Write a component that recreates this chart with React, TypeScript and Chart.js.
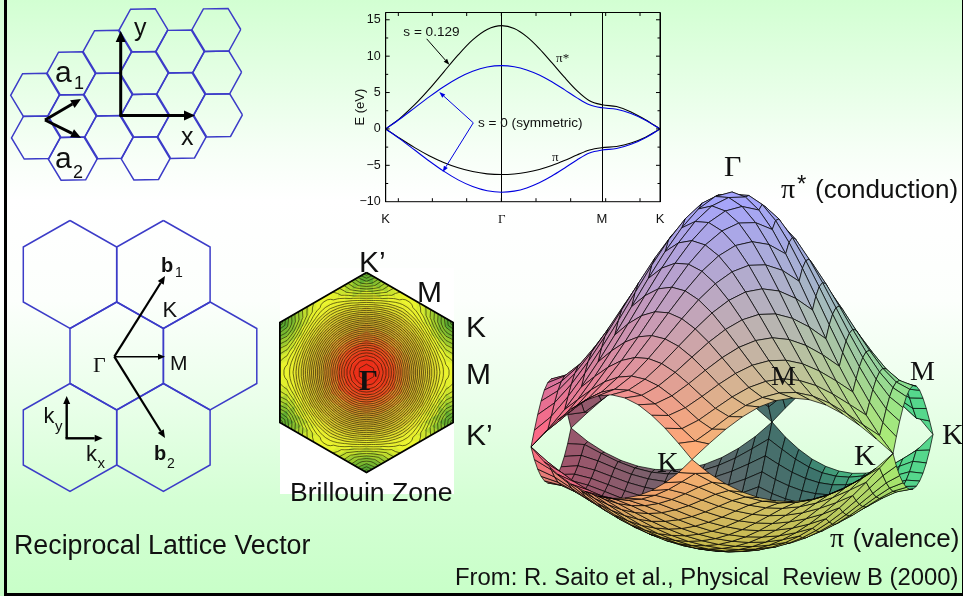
import React, { useEffect, useRef } from "react";
import { Chart, registerables } from "chart.js";

Chart.register(...registerables);

/*
 * Where the numbers come from: the curve arrays and the surface tables below were not all measured
 * point by point from the picture. I worked them out by hand from the tight-binding dispersion
 * E = t*w / (1 -/+ s*w), with t = 2.9 eV and s = 0.129. Those two constants were fitted to the
 * reference (Gamma at 14.2 / -6.3 / +-8.7 eV, M at 3.3 / -2.6 / +-2.9 eV), and I checked the result
 * against it. The values are typed in as literals; nothing is computed at run time.
 * Contour lines in the Brillouin zone are linear interpolations of the piStarRows table.
 * The mesh of 12 cells per rhombus was counted from the kinks on the reference's surface.
 */

/* ---------- band-structure inset ---------- */
const kPath = [0, 0.25, 0.5, 0.75, 1, 1.25, 1.5, 1.75, 2, 2.2165, 2.433, 2.6495, 2.866, 3.0825, 3.299, 3.5155, 3.732, 3.982, 4.232, 4.482, 4.732];
const piStarOverlap = [0, 1.49, 3.33, 5.47, 7.82, 10.17, 12.23, 13.67, 14.19, 13.8, 12.69, 11.05, 9.11, 7.11, 5.27, 3.88, 3.33, 3.07, 2.34, 1.27, 0];
const piOverlap = [0, -1.32, -2.57, -3.68, -4.61, -5.34, -5.86, -6.17, -6.27, -6.19, -5.96, -5.57, -5.03, -4.35, -3.59, -2.89, -2.57, -2.41, -1.94, -1.14, 0];
const piStarSymmetric = [0, 1.4, 2.9, 4.4, 5.8, 7.0, 7.92, 8.5, 8.7, 8.55, 8.11, 7.41, 6.48, 5.4, 4.27, 3.31, 2.9, 2.7, 2.12, 1.2, 0];
const piSymmetric = [0, -1.4, -2.9, -4.4, -5.8, -7.0, -7.92, -8.5, -8.7, -8.55, -8.11, -7.41, -6.48, -5.4, -4.27, -3.31, -2.9, -2.7, -2.12, -1.2, 0];
const symmetryTicks = [0, 2, 3.732, 4.732];
const symmetryLabels = ["K", "Γ", "M", "K"];
const kMinorTicks = [0.218, 0.805, 1.397, 1.995, 2.593, 3.191, 3.795, 4.387];
const energyMinorTicks = [-7.5, -5, -2.5, 0, 2.5, 5, 7.5, 10, 12.5, 15];

/* ---------- energy surface: triangular tables over one rhombus of the zone (eV) ---------- */
const piStarRows = [[14.19], [13.96], [13.28, 13.51], [12.23, 12.65], [10.9, 11.46, 11.65], [9.4, 10.05, 10.39], [7.82, 8.51, 8.96, 9.11], [6.24, 6.94, 7.46, 7.74], [4.73, 5.42, 5.98, 6.34, 6.47], [3.33, 3.99, 4.58, 5.02, 5.25], [2.07, 2.71, 3.33, 3.84, 4.16, 4.28], [0.96, 1.61, 2.3, 2.9, 3.33, 3.56], [0, 0.86, 1.66, 2.34, 2.88, 3.21, 3.33]];
const piRows = [[-6.27], [-6.23], [-6.09, -6.13], [-5.86, -5.95], [-5.54, -5.67, -5.72], [-5.12, -5.3, -5.4], [-4.61, -4.84, -4.99, -5.03], [-4.01, -4.29, -4.49, -4.58], [-3.33, -3.66, -3.9, -4.05, -4.11], [-2.57, -2.95, -3.25, -3.47, -3.58], [-1.75, -2.18, -2.57, -2.86, -3.04, -3.1], [-0.88, -1.41, -1.91, -2.3, -2.57, -2.7], [0, -0.8, -1.44, -1.94, -2.29, -2.5, -2.57]];
const contourLevels = [0.31, 0.66, 1.01, 1.36, 1.71, 2.06, 2.41, 2.76, 3.11, 3.46, 3.81, 4.16, 4.51, 4.86, 5.21, 5.56, 5.91, 6.26, 6.61, 6.96, 7.31, 7.66, 8.01, 8.36, 8.71, 9.06, 9.41, 9.76, 10.11, 10.46, 10.81, 11.16, 11.51, 11.86, 12.21, 12.56, 12.91, 13.26, 13.61, 13.96];

/* ---------- lattices: cells in lattice indices ---------- */
const realLatticeCells = [[0, 0], [0, 1], [0, 2], [0, 3], [1, 0], [1, 1], [1, 2], [2, -1], [2, 0], [2, 1], [-1, 1], [-1, 2], [-1, 3], [-2, 2], [-2, 3], [-2, 4], [-3, 3], [-3, 4]];
const reciprocalCells = [[0, 0], [1, 1], [1, 0], [0, -1], [0, 1], [-1, 0]];

const SANS = "'Liberation Sans', Arial, sans-serif";
const SERIF = "'Liberation Serif', 'Times New Roman', serif";
const INK = "#111";
const LATTICE_BLUE = "#3c3cc8";

type Lbl = [string, number, number, number, string, string?];
const sceneLabels: Lbl[] = [
  ["y", 134, 36, 25, SANS], ["x", 181, 145, 25, SANS],
  ["a", 55, 81.5, 30, SANS], ["1", 74, 88.5, 18, SANS],
  ["a", 55, 168, 30, SANS], ["2", 73, 178, 18, SANS],
  ["b", 161, 271.5, 20, SANS, "bold"], ["1", 175, 277, 14, SANS],
  ["K", 162.5, 316.5, 22, SANS], ["Γ", 93, 371.5, 22, SERIF], ["M", 170, 370, 21, SANS],
  ["k", 43.5, 422.5, 22, SANS], ["y", 55, 431, 15, SANS],
  ["k", 86, 461, 22, SANS], ["x", 97.5, 468, 15, SANS],
  ["b", 154, 460, 20, SANS, "bold"], ["2", 167, 468, 14, SANS],
  ["Reciprocal Lattice Vector", 14, 554, 26.8, SANS],
  ["K’", 359, 271.5, 30, SANS], ["M", 417, 301.5, 30, SANS], ["K", 466, 336.5, 30, SANS],
  ["M", 466, 384, 30, SANS], ["K’", 466, 445, 30, SANS], ["Γ", 359, 390, 30, SERIF, "bold"],
  ["Brillouin Zone", 290, 500.5, 26.6, SANS],
  ["Γ", 724, 176, 30, SERIF], ["π", 781, 198, 28, SERIF], ["*", 797, 192, 24, SANS],
  ["(conduction)", 815, 198, 26, SANS],
  ["M", 771, 385, 28, SERIF], ["M", 910, 380, 28, SERIF], ["K", 942, 444, 30, SERIF],
  ["K", 657, 471.5, 30, SERIF], ["K", 854, 465, 30, SERIF],
  ["π", 830, 546.5, 28, SERIF], ["(valence)", 852.5, 546.5, 26, SANS],
  ["From: R. Saito et al., Physical  Review B (2000)", 455, 585, 23.85, SANS],
];
const bandLabels: Lbl[] = [
  ["s = 0.129", 0.304, 12.73, 13.6, SANS], ["s = 0 (symmetric)", 1.592, 0.24, 13.6, SANS],
  ["π*", 2.94, 9.23, 13, SERIF], ["π", 2.87, -4.35, 13, SERIF],
];
type Arr = [number, number, number, number, number, number, number, string];
const sceneArrows: Arr[] = [
  [120.7, 116, 120.7, 31, 3, 11, 10, "#000"], [119.5, 115.5, 195, 115.5, 3, 11, 10, "#000"],
  [45, 120, 81, 99, 3, 10, 9, "#000"], [45, 120, 81, 137.7, 3, 10, 9, "#000"],
  [114.3, 356.7, 165, 276, 2.2, 8, 7, "#000"], [114.3, 356.7, 165, 438, 2.2, 8, 7, "#000"],
  [114.3, 356.7, 165, 356.7, 1.6, 7, 6, "#000"],
  [66.7, 438.3, 66.7, 396, 2.4, 8, 7, "#000"], [65.5, 438.3, 102.7, 438.3, 2.4, 8, 7, "#000"],
];
const bandArrows: Arr[] = [
  [0.707, 12.38, 1.098, 8.83, 1, 6, 4.5, "#000"],
  [1.511, 0.84, 0.925, 5.06, 1, 6, 4.5, "#0000e0"],
  [1.511, 0.84, 0.983, -5.91, 1, 6, 4.5, "#0000e0"],
];

function energy(rows: number[][], i: number, j: number) {
  const a = Math.max(i, j);
  const b = Math.min(i, j);
  return rows[a][Math.min(b, a - b)];
}

function drawArrow(ctx: CanvasRenderingContext2D, x0: number, y0: number, x1: number, y1: number, w: number, hl: number, hw: number, color: string) {
  const len = Math.hypot(x1 - x0, y1 - y0);
  const ux = (x1 - x0) / len, uy = (y1 - y0) / len;
  const bx = x1 - ux * hl, by = y1 - uy * hl;
  ctx.save();
  ctx.strokeStyle = color; ctx.fillStyle = color; ctx.lineWidth = w;
  ctx.beginPath(); ctx.moveTo(x0, y0); ctx.lineTo(bx, by); ctx.stroke();
  ctx.beginPath(); ctx.moveTo(x1, y1);
  ctx.lineTo(bx - uy * hw / 2, by + ux * hw / 2);
  ctx.lineTo(bx + uy * hw / 2, by - ux * hw / 2);
  ctx.closePath(); ctx.fill();
  ctx.restore();
}

function annotationPlugin(labels: Lbl[], arrows: Arr[]) {
  return {
    id: "annotations",
    afterDatasetsDraw(chart: any) {
      const { ctx, scales: { x, y } } = chart;
      arrows.forEach(([a, b, c, d, w, hl, hw, col]) =>
        drawArrow(ctx, x.getPixelForValue(a), y.getPixelForValue(b), x.getPixelForValue(c), y.getPixelForValue(d), w, hl, hw, col));
      ctx.save();
      ctx.fillStyle = INK; ctx.textBaseline = "alphabetic"; ctx.textAlign = "left";
      labels.forEach(([t, a, b, size, fam, weight]) => {
        ctx.font = `${weight || "normal"} ${size}px ${fam}`;
        ctx.fillText(t, x.getPixelForValue(a), y.getPixelForValue(b));
      });
      ctx.restore();
    },
  };
}

const framePlugin = {
  id: "frame",
  afterDatasetsDraw(chart: any) {
    const { ctx, chartArea: a, scales: { x, y } } = chart;
    ctx.save();
    ctx.strokeStyle = "#000"; ctx.lineWidth = 1;
    ctx.strokeRect(a.left, a.top, a.right - a.left, a.bottom - a.top);
    ctx.beginPath();
    kMinorTicks.forEach((k) => {
      const p = x.getPixelForValue(k);
      ctx.moveTo(p, a.bottom); ctx.lineTo(p, a.bottom - 3.5);
      ctx.moveTo(p, a.top); ctx.lineTo(p, a.top + 3.5);
    });
    energyMinorTicks.forEach((e) => {
      const p = y.getPixelForValue(e);
      const len = e % 5 === 0 ? 4 : 2.5;
      ctx.moveTo(a.left, p); ctx.lineTo(a.left + len, p);
      ctx.moveTo(a.right, p); ctx.lineTo(a.right - len, p);
    });
    ctx.stroke();
    ctx.restore();
  },
};

function mix(a: number[], b: number[], f: number) {
  return a.map((v, i) => v + (b[i] - v) * f);
}
const css = (c: number[]) => `rgb(${Math.round(c[0])},${Math.round(c[1])},${Math.round(c[2])})`;
const ramp = (v: number, lo: number, hi: number) => Math.max(0, Math.min(1, (v - lo) / (hi - lo)));

function zoneColor(e: number) {
  const stops: [number, number[]][] = [
    [0, [55, 150, 50]], [2.2, [165, 208, 45]], [3.4, [235, 245, 45]], [4.4, [228, 228, 45]], [6, [215, 195, 45]], [8.5, [210, 170, 45]],
    [10.5, [222, 130, 40]], [12.2, [232, 72, 30]], [14.2, [236, 38, 22]],
  ];
  for (let i = 1; i < stops.length; i++) {
    if (e <= stops[i][0]) return mix(stops[i - 1][1], stops[i][1], (e - stops[i - 1][0]) / (stops[i][0] - stops[i - 1][0]));
  }
  return stops[stops.length - 1][1];
}

// the non-empty dash keeps Chart.js off its column-merging fast path, which is only safe for x-sorted lines
function lineDs(data: any[], extra: any) {
  return { data, pointRadius: 0, tension: 0, clip: false, fill: false, borderColor: "#000", borderWidth: 1, borderDash: [4000, 0], ...extra };
}

function buildSceneDatasets() {
  const bottomUp: any[] = [];
  const N = 12;

  // Brillouin zone
  const zc = [366.5, 372.5], zr = 100;
  const corner = (deg: number) => [zr * Math.cos((deg * Math.PI) / 180), zr * Math.sin((deg * Math.PI) / 180)];
  const zonePatches = [[-90, 30], [30, 150], [150, 270]].map(([p, q]) => [corner(p), corner(q)]);
  const zp = (pt: number[][], i: number, j: number) => ({
    x: zc[0] + (i / N) * pt[0][0] + (j / N) * pt[1][0],
    y: zc[1] + (i / N) * pt[0][1] + (j / N) * pt[1][1],
  });
  zonePatches.forEach((pt) => {
    for (let i = 0; i < N; i++) for (let j = 0; j < N; j++) {
      const e = (energy(piStarRows, i, j) + energy(piStarRows, i + 1, j) + energy(piStarRows, i, j + 1) + energy(piStarRows, i + 1, j + 1)) / 4;
      const c = css(zoneColor(e));
      const q = [zp(pt, i, j), zp(pt, i + 1, j), zp(pt, i + 1, j + 1), zp(pt, i, j + 1), zp(pt, i, j)];
      bottomUp.push(lineDs(q, { fill: "shape", backgroundColor: c, borderColor: c, borderWidth: 0.8 }));
    }
  });
  const contour: any[] = [];
  zonePatches.forEach((pt) => {
    for (let i = 0; i < N; i++) for (let j = 0; j < N; j++) {
      const tris = [[[i, j], [i + 1, j], [i + 1, j + 1]], [[i, j], [i + 1, j + 1], [i, j + 1]]];
      tris.forEach((t) => contourLevels.forEach((L) => {
        const hits: any[] = [];
        for (let m = 0; m < 3; m++) {
          const [a, b] = [t[m], t[(m + 1) % 3]];
          const ea = energy(piStarRows, a[0], a[1]), eb = energy(piStarRows, b[0], b[1]);
          if ((ea < L) !== (eb < L)) {
            const f = (L - ea) / (eb - ea);
            const pa = zp(pt, a[0], a[1]), pb = zp(pt, b[0], b[1]);
            hits.push({ x: pa.x + (pb.x - pa.x) * f, y: pa.y + (pb.y - pa.y) * f });
          }
        }
        if (hits.length === 2) contour.push(hits[0], hits[1], { x: NaN, y: NaN });
      }));
    }
  });
  bottomUp.push(lineDs(contour, { borderColor: "rgba(25,20,0,0.72)", borderWidth: 0.85, spanGaps: false }));
  const zoneOutline = [-90, -30, 30, 90, 150, 210, 270].map((d) => { const c = corner(d); return { x: zc[0] + c[0], y: zc[1] + c[1] }; });
  bottomUp.push(lineDs(zoneOutline, { borderWidth: 1.8 }));

  // real-space lattice
  const O = [143.3, 30.3], D = [36.83, 21.17], V = [0.83, 42.67];
  const hexR = Math.hypot(V[0], V[1]) / Math.sqrt(3);
  realLatticeCells.forEach(([c, r]) => {
    const cx = O[0] + c * D[0] + r * V[0], cy = O[1] + c * D[1] + r * V[1];
    const pts = [0, 1, 2, 3, 4, 5, 6].map((m) => {
      const th = ((-1.1 + 60 * m) * Math.PI) / 180;
      return { x: cx + hexR * Math.cos(th), y: cy + hexR * Math.sin(th) };
    });
    bottomUp.push(lineDs(pts, { borderColor: LATTICE_BLUE, borderWidth: 1.5 }));
  });

  // reciprocal lattice
  const G = [116.7, 356], b1 = [46.7, -81.5], b2 = [46.7, 81.5];
  reciprocalCells.forEach(([p, q]) => {
    const cx = G[0] + p * b1[0] + q * b2[0], cy = G[1] + p * b1[1] + q * b2[1];
    const pts = [[0, -54], [46.7, -27.5], [46.7, 27.5], [0, 54], [-46.7, 27.5], [-46.7, -27.5], [0, -54]].map(([dx, dy]) => ({ x: cx + dx, y: cy + dy }));
    bottomUp.push(lineDs(pts, { borderColor: LATTICE_BLUE, borderWidth: 1.5 }));
  });

  // 3-D energy surface
  const cx = 732, cy = 441, pxPerEv = 17.55;
  const vR = [201, -6], vFR = [161, 12.5], vF = [-40, 19];
  const vB = [-vF[0], -vF[1]], vL = [-vR[0], -vR[1]];
  const uvFR = [0.5, -0.866], uvB = [0.5, 0.866], uvL = [-1, 0];
  const patches = [[vFR, vB, uvFR, uvB], [vB, vL, uvB, uvL], [vL, vFR, uvL, uvFR]];
  const sheet = (rows: number[][], outwardSign: number, tint: number[], maxE: number) => {
    const quads: { d: number; ds: any }[] = [];
    patches.forEach(([A, B, ua, ub]) => {
      const P = (i: number, j: number) => ({
        x: cx + (i / N) * A[0] + (j / N) * B[0],
        y: cy + (i / N) * A[1] + (j / N) * B[1] - pxPerEv * energy(rows, i, j),
      });
      for (let i = 0; i < N; i++) for (let j = 0; j < N; j++) {
        const p00 = P(i, j), p10 = P(i + 1, j), p11 = P(i + 1, j + 1), p01 = P(i, j + 1);
        const ai = (i + 0.5) / N, bj = (j + 0.5) / N;
        const planeY = ai * A[1] + bj * B[1];
        const t = ai * ua[0] + bj * ub[0];
        const s = -(ai * ua[1] + bj * ub[1]) / 0.866;
        const e = Math.abs(energy(rows, i, j) + energy(rows, i + 1, j + 1)) / 2;
        const area = (p11.x - p00.x) * (p01.y - p10.y) - (p11.y - p00.y) * (p01.x - p10.x);
        const outer = outwardSign * area > 0;
        let col: number[];
        if (outer) {
          const base = [175 - 85 * t + 40 * s, 170 + 68 * t + 35 * s, 130 - 15 * s];
          const f = Math.pow(Math.min(1, e / maxE), 1.25);
          col = mix(base, tint, f);
        } else {
          const shade = [110 - 85 * t, 100 + 25 * t, 108];
          const edge = t > 0 ? [85, 215, 140] : [235, 105, 130];
          col = mix(shade, edge, ramp(Math.abs(t), 0.58, 0.8));
        }
        quads.push({
          d: planeY,
          ds: lineDs([p00, p10, p11, p01, p00], {
            fill: "shape",
            backgroundColor: css(col.map((v) => Math.max(0, Math.min(255, v)))),
            borderColor: "rgba(0,0,0,0.82)",
            borderWidth: 0.85,
          }),
        });
      }
    });
    quads.sort((m, n) => m.d - n.d);
    quads.forEach((q) => bottomUp.push(q.ds));
  };
  sheet(piRows, 1, [200, 190, 70], 6.27);
  sheet(piStarRows, -1, [165, 165, 255], 14.19);

  // Chart.js paints the first dataset last
  return bottomUp.reverse();
}

export default function App() {
  const sceneRef = useRef<HTMLCanvasElement>(null);
  const bandRef = useRef<HTMLCanvasElement>(null);

  useEffect(() => {
    document.body.style.margin = "0";
    const scene = new Chart(sceneRef.current as any, {
      type: "line",
      data: { datasets: buildSceneDatasets() },
      options: {
        responsive: false, animation: false, events: [],
        layout: { padding: 0 },
        plugins: { legend: { display: false }, tooltip: { enabled: false } },
        scales: {
          x: { type: "linear", min: 0, max: 963, display: false },
          y: { type: "linear", min: 0, max: 596, reverse: true, display: false },
        },
      },
      plugins: [annotationPlugin(sceneLabels, sceneArrows)],
    } as any);

    const curve = (ys: number[]) => kPath.map((x, i) => ({ x, y: ys[i] }));
    const bandDs = (ys: number[], color: string) => ({
      data: curve(ys), borderColor: color, borderWidth: 1.1, pointRadius: 0,
      cubicInterpolationMode: "monotone", fill: false,
    });
    const band = new Chart(bandRef.current as any, {
      type: "line",
      data: {
        datasets: [
          bandDs(piStarSymmetric, "#0000e0"), bandDs(piSymmetric, "#0000e0"),
          bandDs(piStarOverlap, "#000"), bandDs(piOverlap, "#000"),
        ],
      },
      options: {
        responsive: false, animation: false, events: [],
        layout: { padding: { top: 5.7, right: 20 } },
        plugins: { legend: { display: false }, tooltip: { enabled: false } },
        scales: {
          x: {
            type: "linear", min: 0, max: 4.732,
            afterBuildTicks: (s: any) => { s.ticks = symmetryTicks.map((value) => ({ value })); },
            afterFit: (s: any) => { s.height = 23.3; },
            grid: { color: "#000", lineWidth: 1, drawTicks: false },
            border: { display: false },
            ticks: {
              autoSkip: false, maxRotation: 0, padding: 10, color: INK,
              font: (c: any) => ({ size: 13, family: c.index === 1 ? SERIF : SANS }),
              callback: (_v: any, i: number) => symmetryLabels[i],
            },
          },
          y: {
            type: "linear", min: -10, max: 16,
            afterFit: (s: any) => { s.width = 45.7; },
            grid: { display: false, drawTicks: false },
            border: { display: false },
            title: { display: true, text: "E (eV)", color: INK, font: { size: 13, family: SANS }, padding: { top: 13, bottom: 0 } },
            ticks: {
              stepSize: 5, includeBounds: false, padding: 5, color: INK,
              font: { size: 12.5, family: SANS },
              callback: (v: any) => String(v).replace("-", "−"),
            },
          },
        },
      },
      plugins: [framePlugin, annotationPlugin(bandLabels, bandArrows)],
    } as any);

    return () => { scene.destroy(); band.destroy(); };
  }, []);

  const abs = (l: number, t: number, w: number, h: number, bg: string): React.CSSProperties => ({ position: "absolute", left: l, top: t, width: w, height: h, background: bg });

  return (
    <div style={{ position: "relative", width: 963, height: 596, overflow: "hidden", background: "linear-gradient(180deg,#d2ffd2 0px,#f6fff6 150px,#ffffff 200px,#fcfffc 300px,#eaffea 400px,#d4ffd4 500px,#c8ffc8 596px)" }}>
      <div style={abs(280, 268, 174, 226, "#ffffff")} />
      <canvas ref={sceneRef} width={963} height={596} style={{ position: "absolute", left: 0, top: 0 }} />
      <canvas ref={bandRef} width={340} height={225} style={{ position: "absolute", left: 340, top: 0 }} />
      <div style={abs(4, 0, 2.7, 596, "#000")} />
      <div style={abs(4, 593, 959, 3, "#000")} />
      <div style={abs(961.5, 0, 1.5, 596, "#000")} />
    </div>
  );
}
